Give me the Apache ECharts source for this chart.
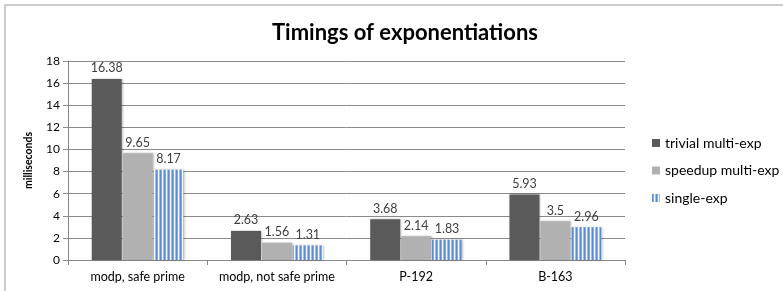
<!DOCTYPE html>
<html><head><meta charset="utf-8">
<script src="https://cdn.jsdelivr.net/npm/echarts@6/dist/echarts.min.js"></script>
<style>html,body{margin:0;padding:0;background:#fff}#c{width:783px;height:291px}</style>
</head><body><div id="c"></div>
<script>
const categories = ['modp, safe prime', 'modp, not safe prime', 'P-192', 'B-163'];
const seriesNames = ['trivial multi-exp', 'speedup multi-exp', 'single-exp'];
const trivial = [16.38, 2.63, 3.68, 5.93];
const speedup = [9.65, 1.56, 2.14, 3.5];
const single = [8.17, 1.31, 1.83, 2.96];
const yTicks = [0, 2, 4, 6, 8, 10, 12, 14, 16, 18];

const FONT = 'Lato';
function stripe() {
  const c = document.createElement('canvas');
  c.width = 4; c.height = 4;
  const g = c.getContext('2d');
  const cols = ['#5a8bd0', '#86ace0', '#f4f8fd', '#9fbee8'];
  for (let i = 0; i < 4; i++) { g.fillStyle = cols[i]; g.fillRect(i, 0, 1, 4); }
  return c;
}
const chart = echarts.init(document.getElementById('c'), null, {renderer: 'canvas'});
const lbl = {show: true, position: 'top', distance: 4, color: '#404040', fontFamily: FONT, fontSize: 12.5};
const shadow = {shadowBlur: 2, shadowColor: 'rgba(0,0,0,0.25)', shadowOffsetX: 1, shadowOffsetY: 0};
chart.setOption({
  animation: false,
  textStyle: {fontFamily: FONT},
  graphic: [{type: 'rect', shape: {x: 5, y: 5, width: 800, height: 300}, style: {fill: 'none', stroke: '#bcbcbc', lineWidth: 1.5}, silent: true}],
  title: {text: 'Timings of exponentiations', left: 400, textAlign: 'center', top: 17,
    textStyle: {fontFamily: FONT, fontSize: 22, fontWeight: 'bold', color: '#000'}},
  legend: {orient: 'vertical', left: 647, top: 131, itemWidth: 8, itemHeight: 8, itemGap: 13.5,
    textStyle: {fontFamily: FONT, fontSize: 14, color: '#000'}, icon: 'rect', data: seriesNames},
  grid: {left: 68, right: 158, top: 61, bottom: 31},
  xAxis: {type: 'category', data: categories,
    axisLine: {lineStyle: {color: '#888', width: 1}},
    axisTick: {show: true, alignWithLabel: false, length: 5, lineStyle: {color: '#888'}},
    axisLabel: {fontFamily: FONT, fontSize: 12.5, color: '#000', margin: 10, interval: 0, hideOverlap: false}},
  yAxis: {type: 'value', min: yTicks[0], max: yTicks[yTicks.length - 1], interval: 2,
    name: 'milliseconds', nameLocation: 'middle', nameGap: 34, nameRotate: 90,
    nameTextStyle: {fontFamily: FONT, fontSize: 10.5, fontWeight: 'bold', color: '#000'},
    axisLine: {show: true, lineStyle: {color: '#888'}},
    axisTick: {show: true, length: 5, lineStyle: {color: '#888'}},
    axisLabel: {fontFamily: FONT, fontSize: 12, color: '#000', margin: 8},
    splitLine: {lineStyle: {color: '#8a8a8a', width: 1}}},
  series: [
    {name: seriesNames[0], type: 'bar', data: trivial, barWidth: 30, barGap: '3%', barCategoryGap: '34%',
      itemStyle: Object.assign({color: '#5a5a5a'}, shadow), label: lbl},
    {name: seriesNames[1], type: 'bar', data: speedup, barWidth: 30, barGap: '3%',
      itemStyle: Object.assign({color: '#b1b1b1'}, shadow), label: lbl},
    {name: seriesNames[2], type: 'bar', data: single, barWidth: 30, barGap: '3%',
      itemStyle: Object.assign({color: {image: stripe(), repeat: 'repeat'}}, shadow), label: lbl}
  ]
});
</script></body></html>
